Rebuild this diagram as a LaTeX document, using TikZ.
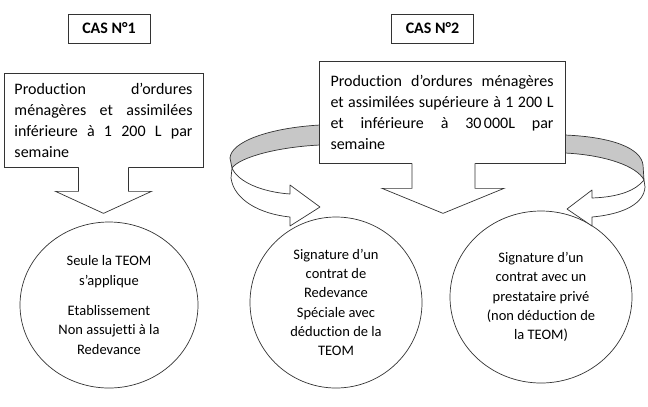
\documentclass[tikz,border=0pt]{standalone}
\usepackage{fontspec}
\setmainfont{Carlito}[Ligatures=NoCommon]
\usetikzlibrary{shapes.geometric}
\tikzset{
  line/.style={draw=black!80, line width=0.7bp},
  casbox/.style={line, rectangle, minimum width=82bp, minimum height=29bp, inner sep=0pt,
    font=\fontsize{16bp}{19bp}\selectfont\bfseries},
  txtbox/.style={line, fill=white, rectangle, inner sep=0pt, align=left,
    font=\fontsize{16bp}{21bp}\selectfont},
  bubble/.style={line, ellipse, inner sep=0pt, align=center,
    font=\fontsize{14.5bp}{19.3bp}\selectfont},
  band/.style={line, fill=black!22, line join=round},
  front/.style={line, fill=white, line join=round},
  blockarrow/.style={line, line join=miter}
}
\newcommand\jline[2]{\leavevmode\hbox to #1{#2}}
\begin{document}
\begin{tikzpicture}[x=1bp, y=-1bp]
\useasboundingbox (0,0) rectangle (648,406);
\fill[white] (0,0) rectangle (648,406);

% result bubbles
\node[bubble, minimum width=178bp, minimum height=166bp] (c1) at (109,305)
  {Seule la TEOM\\s’applique\\[11bp]Etablissement\\Non assujetti à la\\Redevance};
\node[bubble, minimum width=172bp, minimum height=171bp] (c2) at (336,302.5)
  {Signature d’un\\contrat de\\Redevance\\Spéciale avec\\déduction de la\\TEOM};
\node[bubble, minimum width=182bp, minimum height=172bp] (c3) at (541,297)
  {Signature d’un\\contrat avec un\\prestataire privé\\(non déduction de\\la TEOM)};

% left curved arrow (behind box 2)
\path[band] (326,125) -- (320,125) .. controls (268,128) and (231,142) .. (230,158)
  -- (232,168) .. controls (240,157) and (278,147) .. (320,145) -- (326,145) -- cycle;
\path[front] (232,168) .. controls (238,182) and (262,192) .. (290,194)
  -- (290,185) -- (320,207) -- (290,226) -- (290,217)
  .. controls (260,214) and (234,200) .. (231,178) -- cycle;

% right curved arrow (behind box 2)
\path[band] (558,135) -- (565,135) .. controls (612,137) and (641,148) .. (643,165)
  -- (644,180) .. controls (637,166) and (605,155) .. (565,153) -- (558,153) -- cycle;
\path[front] (644,180) .. controls (636,190) and (620,197) .. (592,198)
  -- (592,190) -- (567,209) -- (592,226) -- (592,217)
  .. controls (625,214) and (644,203) .. (645,187) -- cycle;

% headings
\node[casbox] (cas1) at (109,28.5) {CAS N°1};
\node[casbox] (cas2) at (432.5,28.5) {CAS N°2};

% text boxes
\node[txtbox, minimum width=199bp, minimum height=94bp, text width=178bp] (b1) at (103.5,120)
  {\jline{178bp}{Production\hfill d’ordures}\\
   \jline{178bp}{ménagères\hfill et\hfill assimilées}\\
   \jline{178bp}{inférieure\hfill à\hfill 1\hfill 200\hfill L\hfill par}\\
   semaine};
\node[txtbox, minimum width=246bp, minimum height=102bp, text width=223bp] (b2) at (442,112)
  {\jline{223bp}{Production\hfill d’ordures\hfill ménagères}\\
   \jline{223bp}{et\hfill assimilées\hfill supérieure\hfill à\hfill 1\hfill 200\hfill L}\\
   \jline{223bp}{et\hfill inférieure\hfill à\hfill 30\kern2.5bp000L\hfill par}\\
   semaine};

% block arrows from the boxes
\begin{scope}[shift={(b1.south)}]
  \fill[white] (-25,-1.2) -- (-25,24) -- (-48,24) -- (0,46) -- (48,24) -- (25,24) -- (25,-1.2) -- cycle;
  \draw[blockarrow] (-25,0) -- (-25,24) -- (-48,24) -- (0,46) -- (48,24) -- (25,24) -- (25,0);
\end{scope}
\begin{scope}[shift={(b2.south)}]
  \fill[white] (-30,-1.2) -- (-30,25) -- (-60,25) -- (1,50) -- (62,25) -- (33,25) -- (33,-1.2) -- cycle;
  \draw[blockarrow] (-30,0) -- (-30,25) -- (-60,25) -- (1,50) -- (62,25) -- (33,25) -- (33,0);
\end{scope}
\end{tikzpicture}
\end{document}
